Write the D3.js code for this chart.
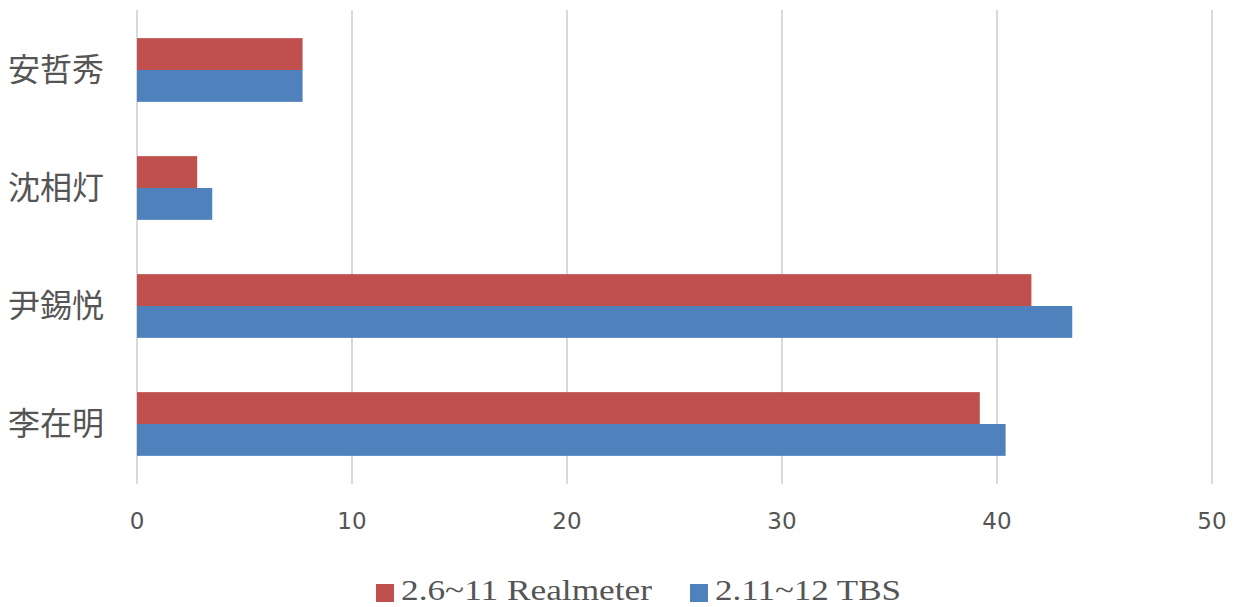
<!DOCTYPE html>
<html>
<head>
<meta charset="utf-8">
<script src="https://cdn.jsdelivr.net/npm/d3@7"></script>
<style>
  body { margin: 0; background: #fff; }
  svg { display: block; }
  .grid line { stroke: #d9d9d9; stroke-width: 2; }
  .cat { font-family: "Noto Sans CJK KR", "Noto Sans CJK SC", sans-serif; font-size: 32px; fill: #555; }
  .tick-label { font-family: "DejaVu Sans", sans-serif; font-size: 23px; fill: #555; }
  .legend { font-family: "Liberation Serif", "DejaVu Serif", serif; font-size: 29px; fill: #555; }
</style>
</head>
<body>
<svg id="chart" width="1242" height="607"></svg>
<script>
var categories = ["安哲秀", "沈相灯", "尹錫悦", "李在明"];
var realmeter = [7.7, 2.8, 41.6, 39.2];
var tbs = [7.7, 3.5, 43.5, 40.4];
var seriesNames = ["2.6~11 Realmeter", "2.11~12 TBS"];
var seriesColors = ["#c0504d", "#4f81bd"];
var xTicks = [0, 10, 20, 30, 40, 50];

var svg = d3.select("#chart");

var x = d3.scaleLinear().domain([0, 50]).range([137, 1212]);
var y = d3.scaleBand().domain(categories).range([11, 483]).paddingInner(0.46).paddingOuter(0.23);
var ySub = d3.scaleBand().domain([0, 1]).range([0, y.bandwidth()]);

// gridlines
var grid = svg.append("g").attr("class", "grid");
grid.selectAll("line")
    .data(xTicks)
    .enter().append("line")
    .attr("x1", d => x(d))
    .attr("x2", d => x(d))
    .attr("y1", 10)
    .attr("y2", 484);

// tick labels
svg.selectAll(".tick-label")
    .data(xTicks)
    .enter().append("text")
    .attr("class", "tick-label")
    .attr("x", d => x(d))
    .attr("y", 521)
    .attr("text-anchor", "middle")
    .attr("dominant-baseline", "central")
    .text(d => d);

// bars
var series = [realmeter, tbs];
series.forEach(function (vals, s) {
    svg.append("g").selectAll("rect")
        .data(vals)
        .enter().append("rect")
        .attr("x", x(0))
        .attr("y", (d, i) => y(categories[i]) + ySub(s))
        .attr("width", d => x(d) - x(0))
        .attr("height", ySub.bandwidth())
        .attr("fill", seriesColors[s]);
});

// category labels
svg.selectAll(".cat")
    .data(categories)
    .enter().append("text")
    .attr("class", "cat")
    .attr("x", 56)
    .attr("y", d => y(d) + y.bandwidth() / 2 - 3)
    .attr("text-anchor", "middle")
    .attr("dominant-baseline", "central")
    .text(d => d);

// legend
var legendX = [376, 690];
var legendW = [251, 186];
seriesNames.forEach(function (name, s) {
    var g = svg.append("g").attr("transform", "translate(" + legendX[s] + ",0)");
    g.append("rect")
        .attr("x", 0)
        .attr("y", 584)
        .attr("width", 18)
        .attr("height", 18)
        .attr("fill", seriesColors[s]);
    g.append("text")
        .attr("class", "legend")
        .attr("x", 25)
        .attr("y", 600)
        .attr("textLength", legendW[s])
        .attr("lengthAdjust", "spacingAndGlyphs")
        .text(name);
});
</script>
</body>
</html>
